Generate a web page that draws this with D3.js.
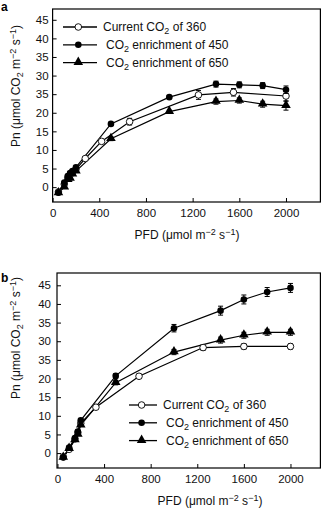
<!DOCTYPE html>
<html>
<head>
<meta charset="utf-8">
<script src="https://cdn.jsdelivr.net/npm/d3@7"></script>
<style>
  body { margin: 0; background: #fff; }
  svg { display: block; font-family: "Liberation Sans", Arial, sans-serif; }
</style>
</head>
<body>
<script>
// tick labels (the original figure prints "35" where 25 should be)
var xTicks = [0, 400, 800, 1200, 1600, 2000];
var yTicks = [0, 5, 10, 15, 20, 25, 30, 35, 40, 45];
var yTickLabels = ["0", "5", "10", "15", "20", "35", "30", "35", "40", "45"];
var legendNames = ["Current CO2 of 360", "CO2 enrichment of 450", "CO2 enrichment of 650"];

// panel a
var aPfdOpen = [50, 100, 130, 150, 170, 200, 280, 420, 660, 1250, 1550, 2000];
var aOpen    = [-1.3, 0.8, 2.5, 3.3, 4.0, 4.8, 7.7, 12.3, 17.6, 24.8, 25.5, 24.5];
var aOpenErr = [0.3, 0.3, 0.3, 0.3, 0.3, 0.3, 0.4, 0.5, 0.9, 1.2, 1.0, 1.3];
var aPfd     = [50, 100, 130, 150, 170, 200, 500, 1000, 1400, 1600, 1800, 2000];
var a450     = [-1.5, 1.2, 3.0, 3.8, 4.3, 5.3, 17.0, 24.2, 27.7, 27.5, 27.3, 26.2];
var a450Err  = [0.3, 0.3, 0.3, 0.3, 0.3, 0.3, 0.4, 0.4, 0.8, 0.8, 0.8, 1.0];
var a650     = [-1.6, 0.0, 2.0, 2.3, 3.5, 4.3, 13.0, 20.3, 23.0, 23.3, 22.3, 21.9];
var a650Err  = [0.3, 0.3, 0.3, 0.3, 0.3, 0.3, 0.5, 0.4, 0.7, 0.7, 0.8, 1.2];

// panel b
var bPfdOpen = [50, 100, 150, 175, 200, 330, 700, 1250, 1600, 2000];
var bOpen    = [-1.0, 1.0, 3.8, 5.5, 8.0, 12.3, 20.6, 28.3, 28.6, 28.6];
var bOpenErr = [0.3, 0.3, 0.3, 0.3, 0.3, 0.4, 0.6, 0.7, 0.7, 0.7];
var bPfd     = [50, 100, 150, 175, 200, 500, 1000, 1400, 1600, 1800, 2000];
var b450     = [-1.2, 1.5, 4.0, 5.8, 8.8, 20.7, 33.5, 38.2, 41.2, 43.2, 44.3];
var b450Err  = [0.3, 0.3, 0.3, 0.3, 0.4, 0.6, 1.0, 1.2, 1.2, 1.2, 1.2];
var b650     = [-1.2, 1.2, 3.5, 5.0, 7.5, 18.9, 27.1, 30.3, 31.6, 32.4, 32.4];
var b650Err  = [0.3, 0.3, 0.3, 0.3, 0.3, 0.6, 0.7, 0.8, 0.8, 0.8, 0.8];

var width = 322;
var height = 509;

var svg = d3.select("body")
            .append("svg")
            .attr("width", width)
            .attr("height", height);

// builds one series from its x and y arrays
function series(xs, ys, errs, kind) {
    return { kind: kind, pts: xs.map(function(x, i) {
        return { x: x, y: ys[i], e: errs[i] };
    }) };
}

// draws a marker of a given kind at (cx, cy)
function marker(g, kind, cx, cy) {
    if (kind == "tri") {
        g.append("path")
         .attr("d", d3.symbol().type(d3.symbolTriangle).size(40)())
         .attr("transform", "translate(" + cx + "," + (cy - 0.5) + ")")
         .attr("fill", "#000");
    } else {
        g.append("circle")
         .attr("cx", cx)
         .attr("cy", cy)
         .attr("r", 3.3)
         .attr("fill", kind == "open" ? "#fff" : "#000")
         .attr("stroke", "#000")
         .attr("stroke-width", kind == "open" ? 0.9 : 0);
    }
}

// writes "CO2" style text with a subscript 2
function co2Text(t, str) {
    var parts = str.split("CO2");
    t.append("tspan").text(parts[0] + "CO");
    t.append("tspan").attr("dy", 3).attr("font-size", "0.75em").text("2");
    t.append("tspan").attr("dy", -3).text(parts[1]);
}

function drawPanel(cfg) {
    var g = svg.append("g");

    var xScale = d3.scaleLinear().domain(cfg.xDomain).range([cfg.left, cfg.right]);
    var yScale = d3.scaleLinear().domain(cfg.yDomain).range([cfg.bottom, cfg.top]);

    // frame
    g.append("rect")
     .attr("x", cfg.left)
     .attr("y", cfg.top)
     .attr("width", cfg.right - cfg.left - 0.6)
     .attr("height", cfg.bottom - cfg.top)
     .attr("fill", "none")
     .attr("stroke", "#000")
     .attr("stroke-width", 1.2);

    // x axis with ticks pointing inward
    var xAxis = d3.axisBottom(xScale)
                  .tickValues(xTicks)
                  .tickSizeInner(-4)
                  .tickSizeOuter(0)
                  .tickPadding(7)
                  .tickFormat(d3.format("d"));
    var gx = g.append("g")
              .attr("transform", "translate(0," + cfg.bottom + ")")
              .call(xAxis);
    gx.select(".domain").remove();

    // y axis with ticks pointing inward
    var yAxis = d3.axisLeft(yScale)
                  .tickValues(yTicks)
                  .tickSizeInner(-4)
                  .tickSizeOuter(0)
                  .tickPadding(cfg.yPad)
                  .tickFormat(function(d, i) { return yTickLabels[i]; });
    var gy = g.append("g")
              .attr("transform", "translate(" + cfg.left + ",0)")
              .call(yAxis);
    gy.select(".domain").remove();

    g.selectAll(".tick text")
     .attr("font-family", "Liberation Sans, Arial, sans-serif")
     .attr("font-size", 11.5)
     .attr("fill", "#111");
    g.selectAll(".tick line").attr("stroke", "#000").attr("stroke-width", 1);

    // lines, error bars and markers
    var line = d3.line()
                 .x(function(d) { return xScale(d.x); })
                 .y(function(d) { return yScale(d.y); });

    cfg.series.forEach(function(s) {
        g.append("path")
         .datum(s.pts)
         .attr("d", line)
         .attr("fill", "none")
         .attr("stroke", "#000")
         .attr("stroke-width", 1.2);
    });
    cfg.series.forEach(function(s) {
        s.pts.forEach(function(p) {
            var cx = xScale(p.x);
            var y1 = yScale(p.y - p.e);
            var y2 = yScale(p.y + p.e);
            g.append("line").attr("x1", cx).attr("x2", cx).attr("y1", y1).attr("y2", y2)
             .attr("stroke", "#000").attr("stroke-width", 1);
            [y1, y2].forEach(function(yy) {
                g.append("line").attr("x1", cx - 2.5).attr("x2", cx + 2.5)
                 .attr("y1", yy).attr("y2", yy)
                 .attr("stroke", "#000").attr("stroke-width", 1);
            });
            marker(g, s.kind, cx, yScale(p.y));
        });
    });

    // legend
    var kinds = ["open", "filled", "tri"];
    kinds.forEach(function(k, i) {
        var ly = cfg.legY + i * cfg.legStep;
        g.append("line")
         .attr("x1", cfg.legX).attr("x2", cfg.legX + cfg.legLen)
         .attr("y1", ly).attr("y2", ly)
         .attr("stroke", "#000").attr("stroke-width", 1.3);
        marker(g, k, cfg.legX + cfg.legLen * 0.45, ly);
        var t = g.append("text")
                 .attr("x", cfg.legX + cfg.legLen + (i == 0 ? 6 : 9))
                 .attr("y", ly + 4)
                 .attr("font-size", 12)
                 .attr("fill", "#111");
        co2Text(t, legendNames[i]);
    });

    // axis titles
    var xt = g.append("text")
              .attr("x", cfg.xTitleX)
              .attr("y", cfg.xTitleY)
              .attr("text-anchor", "middle")
              .attr("font-size", 12)
              .attr("fill", "#111");
    xt.append("tspan").text("PFD (\u03bcmol m");
    xt.append("tspan").attr("dy", -4).attr("font-size", "0.75em").text("\u22122");
    xt.append("tspan").attr("dy", 4).text(" s");
    xt.append("tspan").attr("dy", -4).attr("font-size", "0.75em").text("\u22121");
    xt.append("tspan").attr("dy", 4).text(")");

    var yt = g.append("text")
              .attr("transform", "translate(" + cfg.yTitleX + "," + cfg.yTitleY + ") rotate(-90)")
              .attr("text-anchor", "middle")
              .attr("font-size", 12)
              .attr("fill", "#111");
    yt.append("tspan").text("Pn (\u03bcmol CO");
    yt.append("tspan").attr("dy", 3).attr("font-size", "0.75em").text("2");
    yt.append("tspan").attr("dy", -3).text(" m");
    yt.append("tspan").attr("dy", -4).attr("font-size", "0.75em").text("\u22122");
    yt.append("tspan").attr("dy", 4).text(" s");
    yt.append("tspan").attr("dy", -4).attr("font-size", "0.75em").text("\u22121");
    yt.append("tspan").attr("dy", 4).text(")");

    // panel letter
    g.append("text")
     .attr("x", 1)
     .attr("y", cfg.letterY)
     .attr("font-size", 12)
     .attr("font-weight", "bold")
     .text(cfg.letter);
}

drawPanel({
    letter: "a", letterY: 11,
    left: 52.6, right: 321, top: 9, bottom: 202,
    xDomain: [0, 2300], yDomain: [-4, 47.9], yPad: 4,
    series: [series(aPfdOpen, aOpen, aOpenErr, "open"),
             series(aPfd, a450, a450Err, "filled"),
             series(aPfd, a650, a650Err, "tri")],
    legX: 63, legLen: 34, legY: 27, legStep: 17.8,
    xTitleX: 187, xTitleY: 239,
    yTitleX: 20, yTitleY: 86
});

drawPanel({
    letter: "b", letterY: 282,
    left: 57, right: 321, top: 273, bottom: 468,
    xDomain: [-4, 2262], yDomain: [-4, 48.3], yPad: 6,
    series: [series(bPfdOpen, bOpen, bOpenErr, "open"),
             series(bPfd, b450, b450Err, "filled"),
             series(bPfd, b650, b650Err, "tri")],
    legX: 129, legLen: 28, legY: 405, legStep: 17.8,
    xTitleX: 210, xTitleY: 505,
    yTitleX: 20, yTitleY: 338
});
</script>
</body>
</html>
